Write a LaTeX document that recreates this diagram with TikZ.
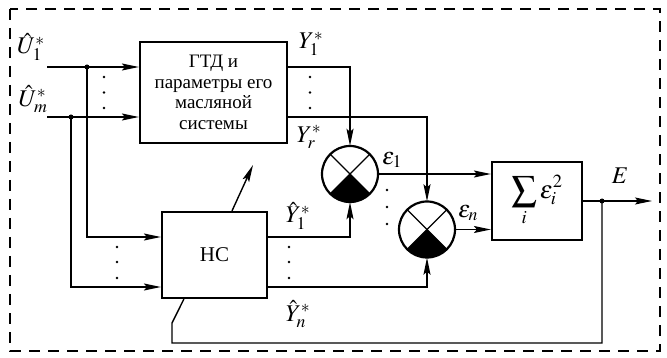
\RequirePackage{fix-cm}
\documentclass[tikz,border=0pt]{standalone}
\usepackage{mathptmx}
\usepackage{fontspec}
\setmainfont{Liberation Serif}
\usetikzlibrary{arrows.meta}
\begin{document}
\begin{tikzpicture}[x=1pt,y=-1pt,
  font=\fontsize{19}{20.5}\selectfont,
  blk/.style={draw, line width=2.2pt, inner sep=0pt, align=center},
  conn/.style={line width=1.4pt},
  arr/.style={conn, -{Stealth[length=17pt,width=7pt,inset=3pt]}},
  jdot/.style={circle, fill, inner sep=0pt, minimum size=5pt},
  vdot/.style={circle, fill, inner sep=0pt, minimum size=2.6pt},
  lab/.style={font=\fontsize{24}{26}\selectfont, inner sep=0pt},
  cmp/.style={circle, minimum size=56pt, inner sep=0pt},
]
\useasboundingbox (0,0) rectangle (667,358);
\draw[line width=1.5pt, dash pattern=on 11pt off 8pt] (10,9) rectangle (660,351);

% blocks
\node[blk, minimum width=147pt, minimum height=101pt] (gtd) at (213.5,92.5) {ГТД и\\параметры его\\масляной\\системы};
\node[blk, minimum width=105pt, minimum height=86pt, font=\fontsize{21}{23}\selectfont] (hc) at (214.5,255) {НС};
\node[blk, minimum width=90pt, minimum height=78pt, font=\fontsize{25}{27}\selectfont] (sum) at (537,201) {$\displaystyle\sum_i \varepsilon_i^2$};

% comparators
\node[cmp] (c1) at (350,174) {};
\node[cmp] (c2) at (427,229.5) {};
\foreach \cc in {c1,c2}{
  \fill (\cc.center) -- ++(45:28) arc[start angle=45,end angle=135,radius=28] -- cycle;
  \draw[conn] (\cc.center) ++(45:28) -- ++(225:56);
  \draw[conn] (\cc.center) ++(135:28) -- ++(-45:56);
  \draw[line width=2.2pt] (\cc.center) circle[radius=28];
}

% coordinates
\coordinate (u1) at (47,67);
\coordinate (um) at (47,117);
\coordinate (hy1) at (0,237);
\coordinate (hy2) at (0,287);
\node[jdot] (j1) at (87,67) {};
\node[jdot] (j2) at (71,117) {};
\node[jdot] (j3) at (602,201) {};
\coordinate (eo) at (652,201);
\coordinate (fb1) at (602,343);
\coordinate (fb2) at (172,343);
\coordinate (fb3) at (172,323);
\coordinate (adj) at (253,165);

% inputs
\draw[arr] (u1) -- (u1 -| gtd.west);
\draw[arr] (um) -- (um -| gtd.west);
\draw[arr] (j1.center) |- (hc.west |- hy1);
\draw[arr] (j2.center) |- (hc.west |- hy2);

% outputs to comparators
\draw[arr] (gtd.east |- u1) -| (c1.north);
\draw[arr] (gtd.east |- um) -| (c2.north);
\draw[arr] (hc.east |- hy1) -| (c1.south);
\draw[arr] (hc.east |- hy2) -| (c2.south);
\draw[arr] (c1.east) -- (c1.east -| sum.west);
\draw[arr] (c2.east) -- (c2.east -| sum.west);

% output and feedback
\draw[arr] (sum.east |- j3) -- (eo);
\draw[conn] (j3.center) -- (fb1) -- (fb2) -- (fb3) -- ([xshift=23pt]hc.south west);
\draw[arr] ([xshift=17.5pt]hc.north) -- (adj);

% vertical dots
\foreach \xx/\yy [count=\k] in {104/77,104/92.5,104/108,310/77,310/92.5,310/108,
   117/247,117/262,117/278,289/247,289/262,289/278,387/190,387/207,387/224}
  \node[vdot] (vd\k) at (\xx,\yy) {};

% labels
\node[lab] (lu1) at (31,47) {$\hat{U}_1^{*}$};
\node[lab] (lum) at (33,99) {$\hat{U}_m^{*}$};
\node[lab] (ly1) at (311,44) {$Y_1^{*}$};
\node[lab] (lyr) at (309,137) {$Y_r^{*}$};
\node[lab] (le1) at (392,160) {$\varepsilon_1$};
\node[lab] (len) at (468,213) {$\varepsilon_n$};
\node[lab] (lyh1) at (298,216) {$\hat{Y}_1^{*}$};
\node[lab] (lyhn) at (298,314) {$\hat{Y}_n^{*}$};
\node[lab] (lE) at (620,176) {$E$};
\end{tikzpicture}
\end{document}
